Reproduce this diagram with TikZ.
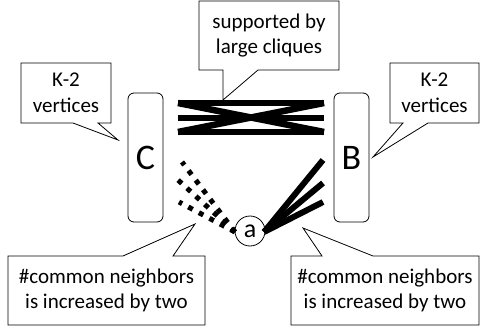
\documentclass[tikz,border=0pt]{standalone}
\usepackage{fontspec}
\setmainfont{Carlito}
\begin{document}
\begin{tikzpicture}[x=1pt,y=-1pt,
  callout/.style={draw=black,line width=0.8pt,fill=white,line join=miter},
  ctext/.style={align=center,font=\fontsize{21}{25.5}\selectfont,inner sep=0pt},
  setbox/.style={draw=black,line width=0.8pt,rounded corners=6pt,minimum width=35pt,minimum height=129pt,inner sep=0pt,font=\fontsize{36}{40}\selectfont},
  thick line/.style={line width=6.5pt,line cap=butt},
  dot line/.style={line width=5pt,line cap=butt,dash pattern=on 5pt off 7pt}]
\useasboundingbox (0,0) rectangle (481,331);
% set boxes
\node[setbox] (C) at (145.5,157.5) {C};
\node[setbox] (B) at (351.5,157.5) {B};
\node[circle,draw=black,line width=0.8pt,minimum size=30pt,inner sep=0pt,font=\fontsize{26}{28}\selectfont] (a) at (250,231) {a};
% clique lines between C and B
\coordinate (c1) at (178,103); \coordinate (c2) at (178,118); \coordinate (c3) at (178,132);
\coordinate (b1) at (324,103); \coordinate (b2) at (324,118); \coordinate (b3) at (324,132);
\draw[thick line] (c1) -- (b1);
\draw[thick line] (c2) -- (b2);
\draw[thick line] (c3) -- (b3);
\draw[thick line] (c1) -- (b3);
\draw[thick line] (c3) -- (b1);
% dotted edges from C side to a
\coordinate (d1) at (182,162); \coordinate (d2) at (178,180); \coordinate (d3) at (179,202);
\coordinate (aw) at (235,232);
\draw[dot line] (aw) -- (d1);
\draw[dot line] (aw) -- (d2);
\draw[dot line] (aw) -- (d3);
% solid edges from a to B side
\coordinate (e1) at (323,160); \coordinate (e2) at (323,183); \coordinate (e3) at (323,202);
\coordinate (ae) at (264,232);
\draw[thick line,line width=6pt] (ae) -- (e1);
\draw[thick line,line width=6pt] (ae) -- (e2);
\draw[thick line,line width=6pt] (ae) -- (e3);
% callouts
\draw[callout] (199,1) -- (339,1) -- (339,70) -- (258,70) -- (223,100) -- (223,70) -- (199,70) -- cycle;
\node[ctext] (t1) at (269,35.5) {supported by\\large cliques};
\draw[callout] (21,63) -- (111,63) -- (111,123) -- (98,123) -- (118,140) -- (73,123) -- (21,123) -- cycle;
\node[ctext] (t2) at (66,93) {K-2\\vertices};
\draw[callout] (390,63) -- (479,63) -- (479,123) -- (428,123) -- (373,157) -- (403,123) -- (390,123) -- cycle;
\node[ctext] (t3) at (434.5,93) {K-2\\vertices};
\draw[callout] (8,256) -- (123,256) -- (195,224) -- (173,256) -- (205,256) -- (205,325) -- (8,325) -- cycle;
\node[ctext] (t4) at (106.5,290.5) {\#common neighbors\\is increased by two};
\draw[callout] (291,256) -- (322,256) -- (303,228) -- (373,256) -- (479,256) -- (479,325) -- (291,325) -- cycle;
\node[ctext] (t5) at (385,290.5) {\#common neighbors\\is increased by two};
\end{tikzpicture}
\end{document}
